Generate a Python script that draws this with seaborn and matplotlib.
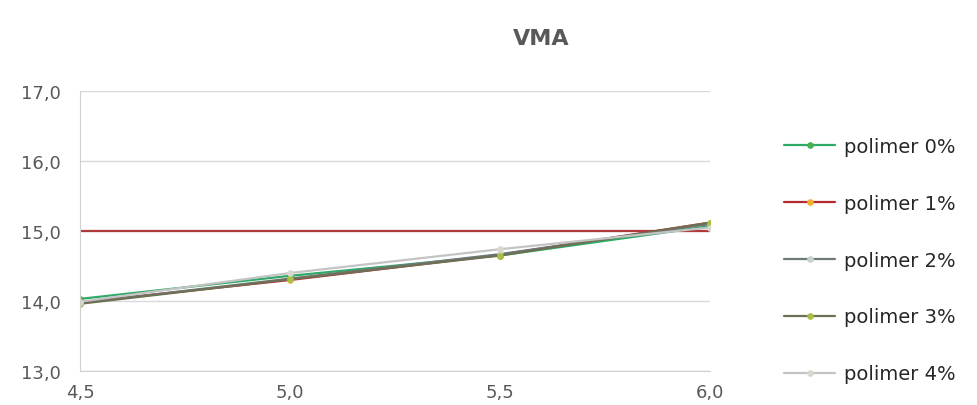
import pandas as pd
import numpy as np
import matplotlib
matplotlib.use('Agg')
import matplotlib.pyplot as plt
import seaborn as sns
from matplotlib.ticker import FuncFormatter

# kadar aspal vs VMA
kadar = [4.5, 5.0, 5.5, 6.0]
p0 = [14.03, 14.36, 14.65, 15.07]
p1 = [13.98, 14.30, 14.66, 15.12]
p2 = [13.97, 14.32, 14.67, 15.10]
p3 = [13.96, 14.31, 14.65, 15.12]
p4 = [13.99, 14.40, 14.74, 15.05]
batas = 15.0

labels = ['polimer 0%', 'polimer 1%', 'polimer 2%', 'polimer 3%', 'polimer 4%']
line_colors = ['#2eaa66', '#b5282e', '#6c7a7a', '#6f6f55', '#c4c4c4']
marker_colors = ['#4caf50', '#f0b030', '#c8d0d0', '#a8c040', '#d8d8d0']

rows = []
for lab, vals in zip(labels, [p0, p1, p2, p3, p4]):
    for x, y in zip(kadar, vals):
        rows.append({'kadar': x, 'VMA': y, 'seri': lab})
df = pd.DataFrame(rows)

sns.set_style('white')
fig = plt.figure(figsize=(9.78, 4.06), dpi=100)
ax = fig.add_axes([0.082, 0.084, 0.644, 0.689])

ax.axhline(batas, color='#b03a3a', lw=1.6, zorder=1)

for lab, lc, mc in zip(labels, line_colors, marker_colors):
    sns.lineplot(data=df[df.seri == lab], x='kadar', y='VMA', ax=ax,
                 color=lc, lw=1.6, marker='o', markersize=4,
                 markerfacecolor=mc, markeredgecolor=mc, label=lab, zorder=2)

ax.set_xlim(4.5, 6.0)
ax.set_ylim(13.0, 17.0)
ax.set_xticks(kadar)
ax.set_yticks([13, 14, 15, 16, 17])
fmt = FuncFormatter(lambda v, p: f'{v:.1f}'.replace('.', ','))
ax.xaxis.set_major_formatter(fmt)
ax.yaxis.set_major_formatter(fmt)
ax.tick_params(labelsize=13, colors='#595959', length=0)
ax.tick_params(axis='x', pad=9)
ax.tick_params(axis='y', pad=14)
ax.grid(axis='y', color='#d9d9d9', lw=1)
ax.set_xlabel('')
ax.set_ylabel('')
for s in ['top', 'right']:
    ax.spines[s].set_visible(False)
for s in ['left', 'bottom']:
    ax.spines[s].set_color('#d0d0d0')

ax.get_legend().remove()
h, l = ax.get_legend_handles_labels()
fig.legend(h, l, loc='center left', bbox_to_anchor=(0.784, 0.357), frameon=False,
           fontsize=14, labelspacing=1.95, handlelength=2.6, handletextpad=0.45,
           labelcolor='#262626')

fig.text(0.553, 0.905, 'VMA', ha='center', va='center', fontsize=16,
         fontweight='bold', color='#595959')

fig.savefig('out.png', dpi=100)
